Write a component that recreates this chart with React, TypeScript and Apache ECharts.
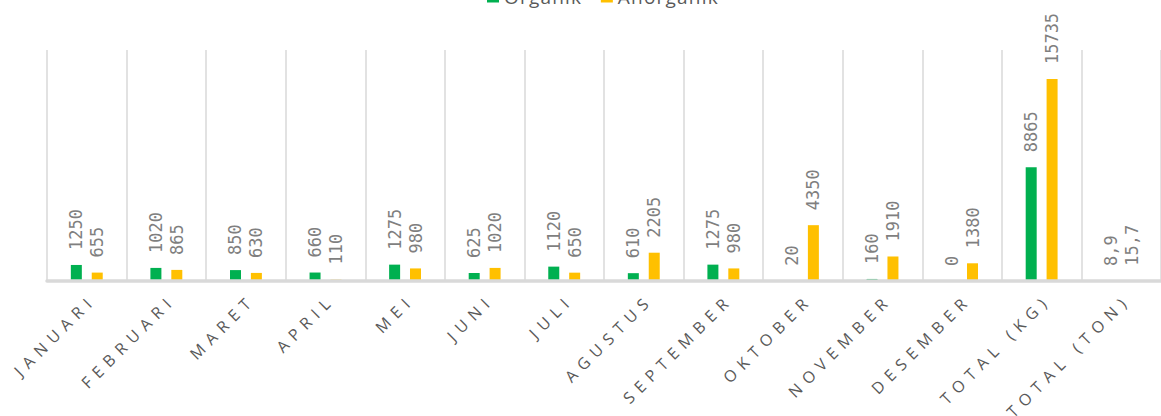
import React, { useEffect, useRef } from "react";
import * as echarts from "echarts";

const categories = [
  "JANUARI", "FEBRUARI", "MARET", "APRIL", "MEI", "JUNI", "JULI", "AGUSTUS",
  "SEPTEMBER", "OKTOBER", "NOVEMBER", "DESEMBER", "TOTAL (KG)", "TOTAL (TON)",
];
const organik = [1250, 1020, 850, 660, 1275, 625, 1120, 610, 1275, 20, 160, 0, 8865, 8.9];
const anorganik = [655, 865, 630, 110, 980, 1020, 650, 2205, 980, 4350, 1910, 1380, 15735, 15.7];
const seriesNames = ["Organik", "Anorganik"];

const fmt = (p: any) => String(p.value).replace(".", ",");

const labelStyle = {
  show: true,
  position: "top" as const,
  rotate: 90,
  align: "left" as const,
  verticalAlign: "middle" as const,
  distance: 15,
  color: "#7f7f7f",
  fontFamily: "DejaVu Sans Mono",
  fontSize: 17,
  formatter: fmt,
};

export default function App() {
  const ref = useRef<HTMLDivElement>(null);
  useEffect(() => {
    const el = ref.current!;
    const chart = echarts.init(el, null, { renderer: "svg" });
    const spaceText = () => {
      el.querySelectorAll("text").forEach((t) => {
        const s = (t.textContent || "").trim();
        if (categories.includes(s)) {
          t.setAttribute("letter-spacing", "6.5");
          t.setAttribute("dx", "9");
        } else if (seriesNames.includes(s)) {
          t.setAttribute("letter-spacing", "1.2");
        }
      });
    };
    chart.on("finished", spaceText);
    chart.setOption({
      animation: false,
      legend: {
        top: -18,
        left: 482,
        itemWidth: 12,
        itemHeight: 12,
        itemGap: 27,
        icon: "rect",
        textStyle: { color: "#595959", fontSize: 19, fontFamily: "Open Sans" },
        data: seriesNames,
      },
      grid: { left: 47, width: 1124, top: 50, bottom: 135, containLabel: false },
      xAxis: {
        type: "category",
        data: categories,
        boundaryGap: true,
        z: 5,
        axisLine: { show: true, lineStyle: { color: "#d9d9d9", width: 3.5 } },
        axisTick: { show: false },
        splitLine: { show: true, lineStyle: { color: "#d9d9d9", width: 1.5 } },
        axisLabel: {
          interval: 0,
          rotate: 45,
          margin: 22,
          color: "#595959",
          fontSize: 16,
          fontFamily: "Open Sans",
        },
      },
      yAxis: {
        type: "value",
        min: 0,
        max: 18000,
        show: false,
        splitLine: { show: false },
      },
      series: [
        {
          name: "Organik",
          type: "bar",
          data: organik,
          barWidth: 11,
          barGap: "90%",
          itemStyle: { color: "#00b050" },
          label: labelStyle,
        },
        {
          name: "Anorganik",
          type: "bar",
          data: anorganik,
          barWidth: 11,
          itemStyle: { color: "#ffc000" },
          label: labelStyle,
        },
      ],
    });
    spaceText();
    return () => chart.dispose();
  }, []);
  return (
    <div
      ref={ref}
      style={{ position: "fixed", left: 0, top: 0, width: 1161, height: 416, background: "#fff" }}
    />
  );
}
